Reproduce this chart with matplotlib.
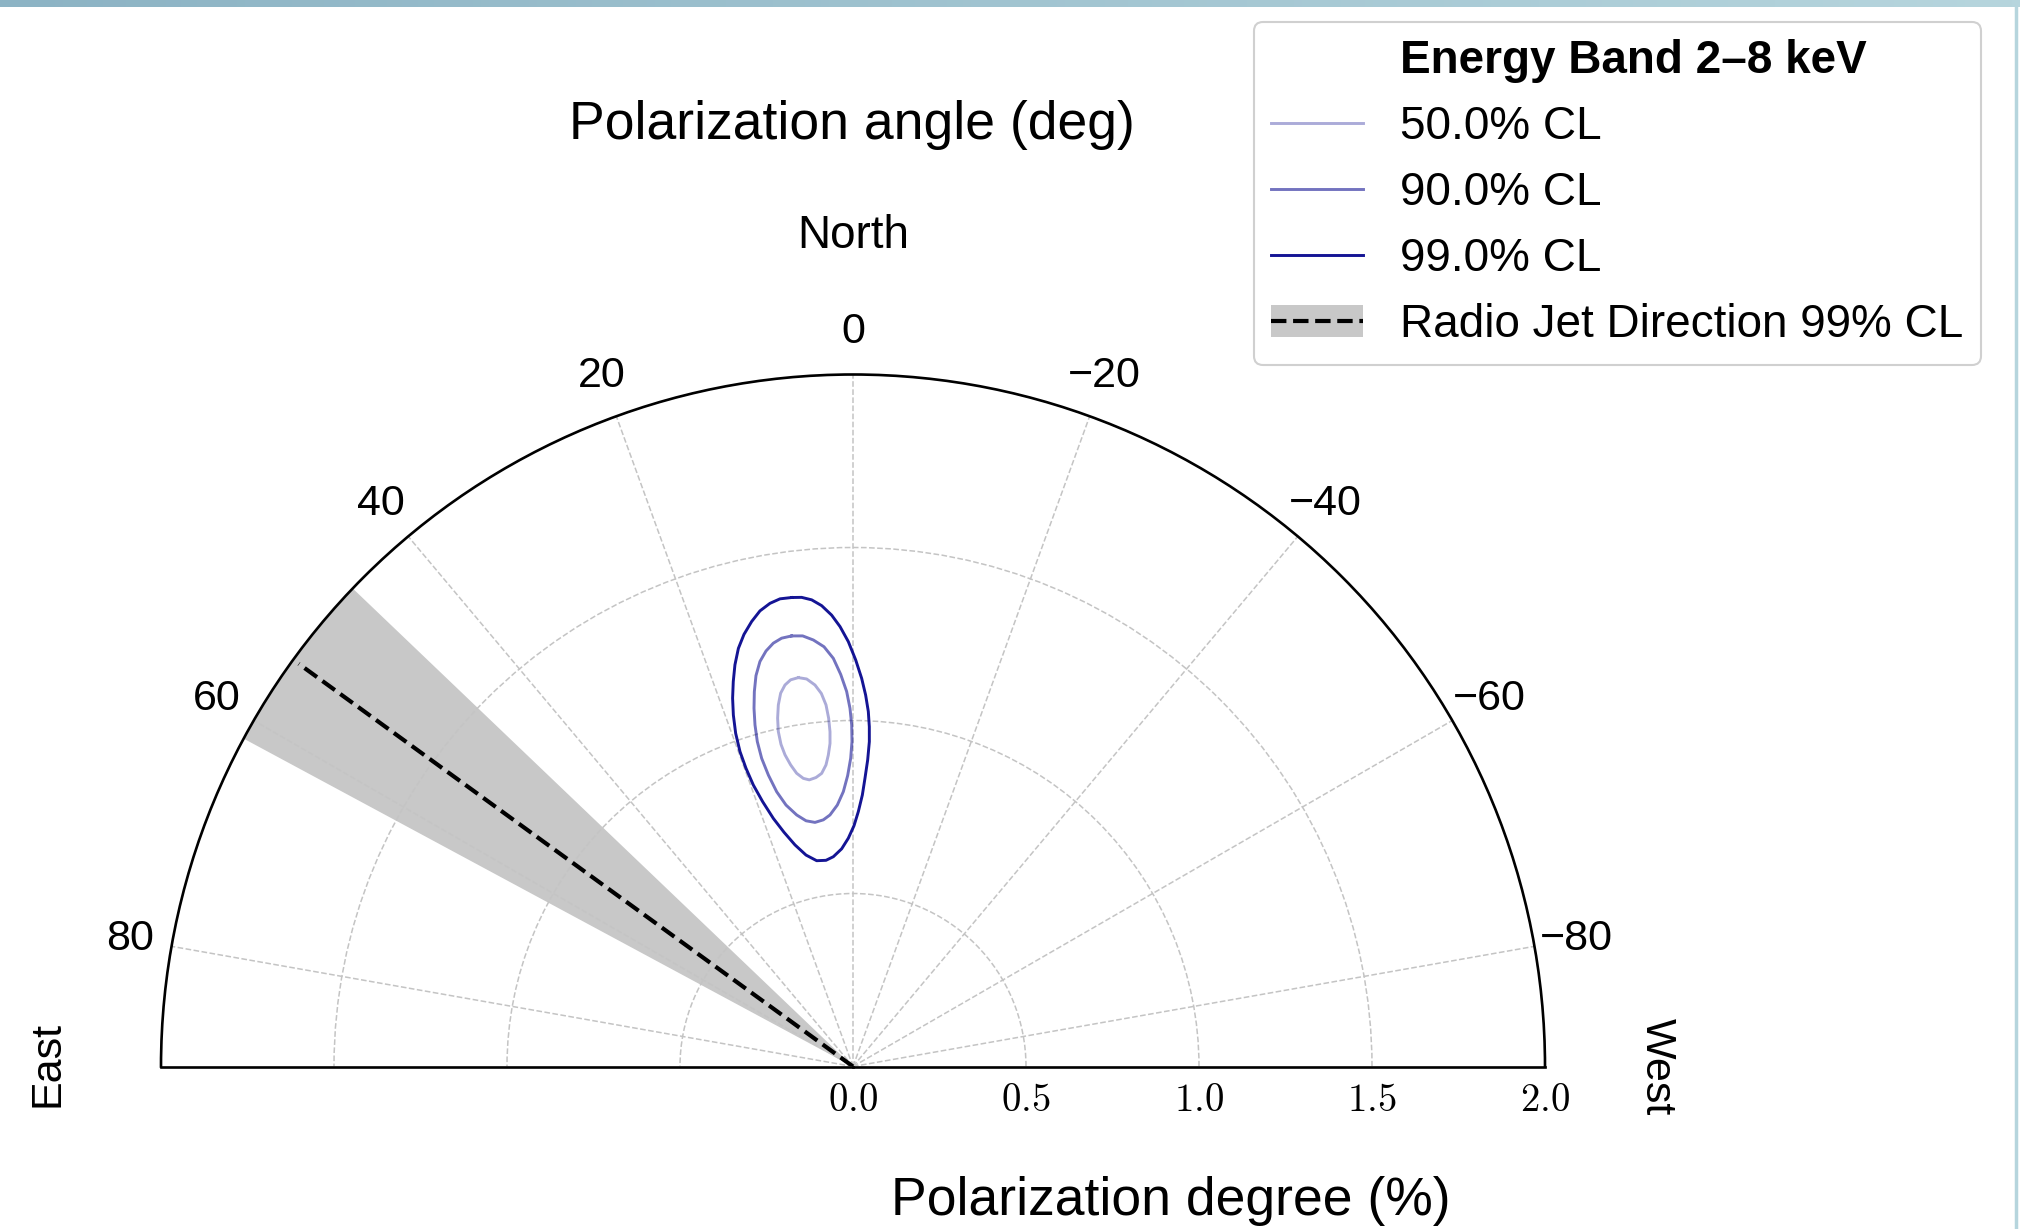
import numpy as np
import matplotlib
matplotlib.use('Agg')
import matplotlib.pyplot as plt
from matplotlib.lines import Line2D
from matplotlib.patches import Patch
from matplotlib.colors import LinearSegmentedColormap

plt.rcParams['font.family'] = ['Liberation Sans', 'DejaVu Sans']
plt.rcParams['mathtext.fontset'] = 'cm'

# confidence contours: polarization angle (deg), degree (%)
cl_labels = ['50.0% CL', '90.0% CL', '99.0% CL']
pa_50 = [8.00, 9.16, 10.11, 10.97, 11.67, 12.21, 12.57, 12.60, 12.31, 11.68, 10.88, 9.78,
         8.67, 7.30, 6.10, 5.12, 4.53, 4.07, 3.93, 4.00, 4.27, 4.85, 5.69, 6.82]
pd_50 = [1.135, 1.132, 1.120, 1.099, 1.067, 1.030, 0.992, 0.954, 0.922, 0.890, 0.863, 0.845,
         0.838, 0.842, 0.852, 0.875, 0.903, 0.936, 0.970, 1.009, 1.048, 1.082, 1.108, 1.128]
pa_90 = [8.11, 9.46, 10.66, 11.82, 12.94, 13.94, 14.75, 15.45, 16.01, 16.41, 16.51, 16.19,
         15.52, 14.37, 12.62, 10.82, 8.85, 6.86, 5.23, 3.43, 2.01, 1.05, 0.43, 0.18,
         0.22, 0.48, 0.97, 1.80, 2.76, 3.95, 5.31, 6.67]
pd_90 = [1.257, 1.255, 1.245, 1.227, 1.201, 1.164, 1.120, 1.074, 1.027, 0.979, 0.929, 0.877,
         0.824, 0.780, 0.745, 0.723, 0.714, 0.718, 0.730, 0.757, 0.795, 0.841, 0.891, 0.939,
         0.987, 1.035, 1.084, 1.134, 1.181, 1.216, 1.238, 1.253]
pa_99 = [7.45, 8.87, 10.16, 11.54, 12.83, 14.16, 15.33, 16.38, 17.28, 18.10, 18.80, 19.40,
         19.74, 19.74, 19.50, 18.84, 17.80, 16.42, 14.67, 12.53, 10.01, 7.46, 5.35, 2.98,
         1.17, -0.24, -1.20, -1.97, -2.38, -2.74, -2.88, -2.75, -2.47, -1.95, -1.28, -0.38,
         0.63, 1.69, 2.71, 3.89, 5.06, 6.25]
pd_99 = [1.367, 1.368, 1.360, 1.344, 1.319, 1.288, 1.253, 1.210, 1.165, 1.120, 1.073, 1.021,
         0.967, 0.916, 0.863, 0.809, 0.753, 0.706, 0.662, 0.626, 0.604, 0.601, 0.609, 0.630,
         0.660, 0.696, 0.737, 0.785, 0.834, 0.887, 0.940, 0.983, 1.027, 1.074, 1.122, 1.175,
         1.228, 1.272, 1.306, 1.335, 1.354, 1.364]

# radio jet direction and its 99% range
jet_pa = 54.0
jet_pa_lo = 46.3
jet_pa_hi = 61.7
jet_len = 1.98

theta_ticks = [-80, -60, -40, -20, 0, 20, 40, 60, 80]
r_ticks = [0.0, 0.5, 1.0, 1.5, 2.0]

fig = plt.figure(figsize=(20.2, 12.29), dpi=100)

# bluish strip at the very top of the screenshot
strip = fig.add_axes([0, 1 - 7 / 1229, 1, 7 / 1229])
strip.imshow(np.linspace(0, 1, 256)[None, :], aspect='auto',
             cmap=LinearSegmentedColormap.from_list('s', ['#8cb3c4', '#b6d5dd']))
strip.axis('off')
fig.add_artist(Line2D([2015.5 / 2020] * 2, [0, 1], color='#b6d5dd', lw=2.5))

# square box; the half disc sits in its vertical middle
ax = fig.add_axes([161 / 2020, 1 - 1412.5 / 1229, 1384 / 2020, 1384 / 1229], projection='polar')
ax.set_theta_zero_location('N')
ax.set_theta_direction(1)
ax.set_thetamin(-90)
ax.set_thetamax(90)
ax.set_rlim(0, 2)

# jet band + direction
band = np.radians(np.linspace(jet_pa_lo, jet_pa_hi, 60))
ax.fill_between(band, 0, 2, color='#c8c8c8', lw=0, zorder=1)
ax.plot(np.radians([jet_pa, jet_pa]), [0, jet_len], color='k', ls='--', lw=3.0, zorder=3)

alphas = [0.33, 0.55, 0.92]
for pa, pd, a in zip([pa_50, pa_90, pa_99], [pd_50, pd_90, pd_99], alphas):
    th = np.radians(pa + pa[:1])
    ax.plot(th, pd + pd[:1], color='darkblue', alpha=a, lw=2.1, zorder=4)

ax.set_thetagrids(theta_ticks, labels=[str(t).replace('-', '\u2212') for t in theta_ticks])
ax.tick_params(axis='x', pad=23.5, length=0, labelsize=31)
ax.set_rticks(r_ticks)
ax.set_yticklabels([f'${v:.1f}$' for v in r_ticks])
ax.tick_params(axis='y', pad=12, length=0, labelsize=28)
ax.grid(True, color='#c4c4c4', ls='--', lw=1.1)
for s in ['polar', 'start', 'end', 'inner']:
    ax.spines[s].set_linewidth(1.9)

fig.text(852 / 2020, 1 - 139.5 / 1229, 'Polarization angle (deg)', fontsize=38.5,
         ha='center', va='baseline')
fig.text(853 / 2020, 1 - 247.5 / 1229, 'North', fontsize=33, ha='center', va='baseline')
fig.text(1171 / 2020, 1 - 1215.5 / 1229, 'Polarization degree (%)', fontsize=38.5,
         ha='center', va='baseline')
fig.text(47 / 2020, 1 - 1064 / 1229, 'East', fontsize=31, rotation=90,
         ha='center', va='center')
fig.text(1657 / 2020, 1 - 1067 / 1229, 'West', fontsize=31, rotation=-90,
         ha='center', va='center')

handles = [Line2D([], [], color='none')]
handles += [Line2D([], [], color='darkblue', alpha=a, lw=2.1) for a in alphas]
handles += [(Patch(facecolor='#c8c8c8', edgecolor='none'),
             Line2D([], [], color='k', ls='--', lw=3.0))]
labels = ['Energy Band 2\u20138 keV'] + cl_labels + ['Radio Jet Direction 99% CL']
leg = fig.legend(handles, labels, loc='upper right', bbox_to_anchor=(1981 / 2020, 1 - 22 / 1229),
                 fontsize=33, frameon=True, fancybox=True, framealpha=1, edgecolor='#d0d0d0',
                 handlelength=2.0, handletextpad=0.82, labelspacing=0.48, borderpad=0.38,
                 borderaxespad=0)
leg.get_texts()[0].set_fontweight('bold')
leg.get_frame().set_linewidth(1.5)

fig.savefig('out.png', dpi=100)
